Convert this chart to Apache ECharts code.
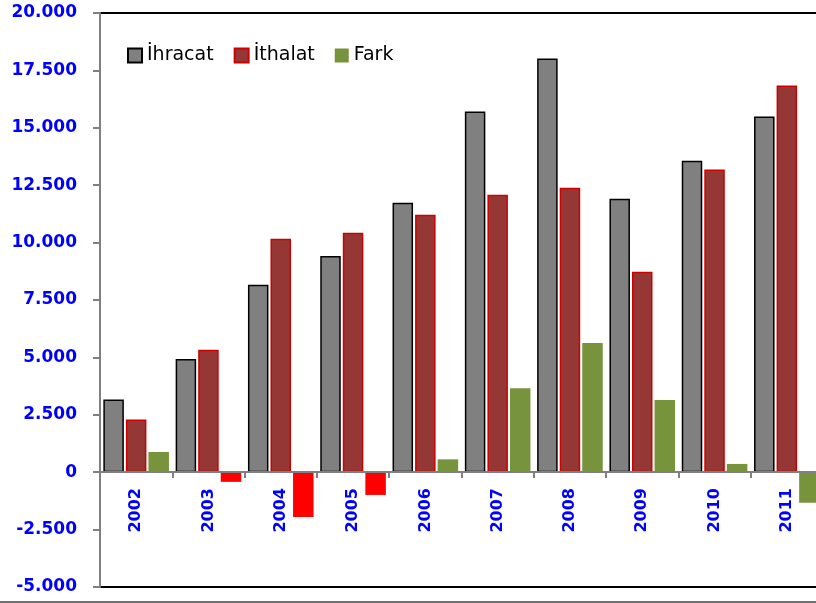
<!DOCTYPE html>
<html>
<head>
<meta charset="utf-8">
<script src="https://cdn.jsdelivr.net/npm/echarts@6/dist/echarts.min.js"></script>
<style>
  html, body { margin: 0; padding: 0; background: #fff; }
  #chart { width: 816px; height: 603px; }
</style>
</head>
<body>
<div id="chart"></div>
<script>
const years = ['2002', '2003', '2004', '2005', '2006', '2007', '2008', '2009', '2010', '2011']
const ihracat = [3170, 4930, 8160, 9420, 11740, 15710, 18020, 11910, 13570, 15490]
const ithalat = [2300, 5330, 10170, 10430, 11210, 12080, 12390, 8730, 13180, 16840]
const fark = [880, -420, -1950, -990, 560, 3660, 5630, 3140, 360, -1330]
// negative years drawn red, except 2011 (stays green like the original)
const farkRed = ['2003', '2004', '2005']

const blue = '#0000FF'

function trNumber (v) {
  let s = Math.abs(v).toString().replace(/\B(?=(\d{3})+(?!\d))/g, '.')
  return (v < 0 ? '-' : '') + s
}

let farkData = []
for (let i = 0; i < fark.length; i++) {
  if (farkRed.indexOf(years[i]) >= 0) {
    farkData.push({ value: fark[i], itemStyle: { color: '#FF0000' } })
  } else {
    farkData.push(fark[i])
  }
}

echarts.init(document.getElementById('chart')).setOption({
  animation: false,
  grid: {
    left: 100,
    top: 13,
    bottom: 16,
    right: -7,
    outerBoundsMode: 'none',
    containLabel: false,
    show: true,
    borderColor: '#000',
    borderWidth: 2
  },
  legend: {
    left: 122,
    top: 41,
    icon: 'rect',
    itemWidth: 14,
    itemHeight: 14,
    itemGap: 20,
    textStyle: {
      fontFamily: 'DejaVu Sans',
      fontSize: 19,
      color: '#000'
    },
    data: ['İhracat', 'İthalat', 'Fark']
  },
  xAxis: {
    type: 'category',
    data: years,
    // category axis sits on the zero line (5.000 of 25.000 above grid bottom)
    offset: -115,
    z: 5,
    axisLine: {
      show: true,
      onZero: false,
      lineStyle: { color: '#808080', width: 2 }
    },
    axisTick: {
      show: true,
      length: 6,
      lineStyle: { color: '#808080', width: 2 }
    },
    axisLabel: {
      rotate: 90,
      margin: 16,
      color: blue,
      fontFamily: 'DejaVu Sans',
      fontWeight: 'bold',
      fontSize: 16
    }
  },
  yAxis: {
    type: 'value',
    min: -5000,
    max: 20000,
    interval: 2500,
    splitLine: { show: false },
    axisLine: {
      show: true,
      lineStyle: { color: '#808080', width: 2 }
    },
    axisTick: {
      show: true,
      length: 7,
      lineStyle: { color: '#808080', width: 2 }
    },
    axisLabel: {
      margin: 23,
      color: blue,
      fontFamily: 'DejaVu Sans',
      fontWeight: 'bold',
      fontSize: 17,
      formatter: trNumber
    }
  },
  series: [{
    name: 'İhracat',
    type: 'bar',
    barWidth: 20.5,
    barGap: '10%',
    data: ihracat,
    itemStyle: { color: '#808080', borderColor: '#000', borderWidth: 1.5 }
  }, {
    name: 'İthalat',
    type: 'bar',
    barWidth: 20.5,
    barGap: '10%',
    data: ithalat,
    itemStyle: { color: '#953735', borderColor: '#D00000', borderWidth: 1.5 }
  }, {
    name: 'Fark',
    type: 'bar',
    barWidth: 20.5,
    barGap: '10%',
    data: farkData,
    itemStyle: { color: '#77933C' }
  }],
  graphic: [{
    type: 'line',
    shape: { x1: 0, y1: 602, x2: 816, y2: 602 },
    style: { stroke: '#404040', lineWidth: 1.5 }
  }]
})
</script>
</body>
</html>
